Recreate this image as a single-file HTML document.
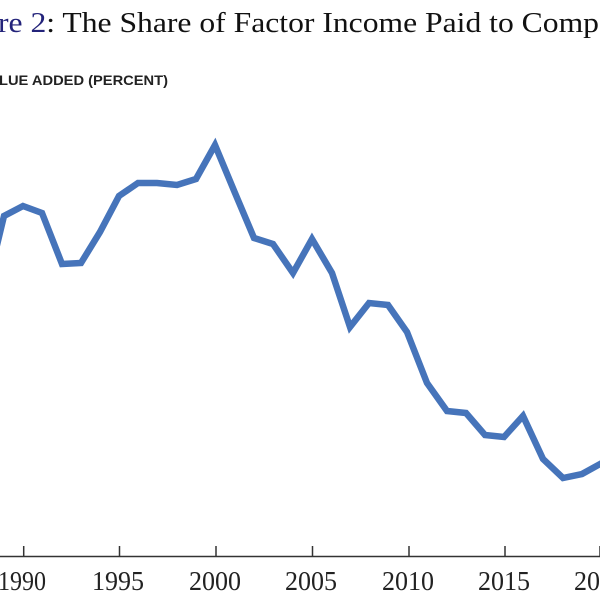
<!DOCTYPE html>
<html><head><style>
html,body{margin:0;padding:0;background:#fff;width:600px;height:597px;overflow:hidden}
</style></head><body>
<svg width="600" height="597" viewBox="0 0 600 597" xmlns="http://www.w3.org/2000/svg">
<text x="-2" y="32" font-family="Liberation Serif, serif" font-size="29" fill="#111" textLength="601" lengthAdjust="spacingAndGlyphs"><tspan fill="#23237a">re 2</tspan>: The Share of Factor Income Paid to Comp</text>
<text x="-1" y="85" font-family="Liberation Sans, sans-serif" font-size="14" font-weight="bold" fill="#222" textLength="169" lengthAdjust="spacingAndGlyphs">LUE ADDED (PERCENT)</text>
<polyline fill="none" stroke="#4674ba" stroke-width="6.5" stroke-linejoin="miter" points="-15,295 4,216 23,206 42,213 62,264 81,263 100,232 119,196 138,183 157,183 177,185 196,179 215,145 235,193 254,238 273,244 293,273 312,239 332,273 350,327 369,303 388,305 407,332 427,383 447,411 466,413 485,435 504,437 523,416 543,459 563,478 582,474 602,463"/>
<line x1="0" y1="556.5" x2="600" y2="556.5" stroke="#333" stroke-width="1.5"/>
<g stroke="#333" stroke-width="1.5">
<line x1="23.7" y1="546" x2="23.7" y2="557"/>
<line x1="119.5" y1="546" x2="119.5" y2="557"/>
<line x1="216" y1="546" x2="216" y2="557"/>
<line x1="312.5" y1="546" x2="312.5" y2="557"/>
<line x1="409" y1="546" x2="409" y2="557"/>
<line x1="505" y1="546" x2="505" y2="557"/>
<line x1="600" y1="546" x2="600" y2="557"/>
</g>
<g font-family="Liberation Serif, serif" font-size="27" fill="#222" text-anchor="middle">
<text x="22" y="590" textLength="48" lengthAdjust="spacingAndGlyphs">1990</text>
<text x="118" y="590" textLength="52" lengthAdjust="spacingAndGlyphs">1995</text>
<text x="215" y="590" textLength="52" lengthAdjust="spacingAndGlyphs">2000</text>
<text x="311" y="590" textLength="52" lengthAdjust="spacingAndGlyphs">2005</text>
<text x="408" y="590" textLength="52" lengthAdjust="spacingAndGlyphs">2010</text>
<text x="504" y="590" textLength="52" lengthAdjust="spacingAndGlyphs">2015</text>
<text x="600" y="590" textLength="52" lengthAdjust="spacingAndGlyphs">2020</text>
</g>
</svg>
</body></html>
